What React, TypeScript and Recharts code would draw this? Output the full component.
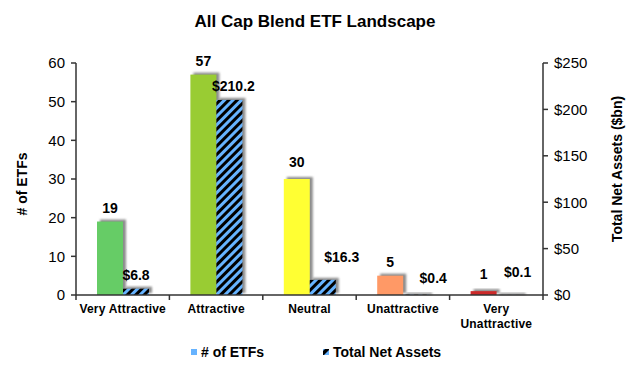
import { Bar, BarChart, Cell, LabelList, XAxis, YAxis } from "recharts"

const categories = ["Very Attractive", "Attractive", "Neutral", "Unattractive", "Very Unattractive"]
const etfCounts = [19, 57, 30, 5, 1]
const netAssets = [6.8, 210.2, 16.3, 0.4, 0.1]
const barColors = ["#66CC66", "#99CC33", "#FFFF33", "#FF9966", "#CC2929"]
const leftTicks = [0, 10, 20, 30, 40, 50, 60]
const rightTicks = [0, 50, 100, 150, 200, 250]

// small manual nudges of data labels, like the hand-placed ones in the original
const etfLabelDy = [0, 0, -3, 0, -3]
const assetLabelDx = [0, 4, 19, 17, 8]
const assetLabelDy = [0, 0, -9, -3, -9]

const data = categories.map((name, i) => ({
  name,
  etfs: etfCounts[i],
  assets: netAssets[i],
}))

const font = "'Liberation Sans', Arial, sans-serif"
const W = 630
const H = 368
const leftW = 76
const rightW = 87
const top = 63
const xAxisH = 73
const plotBottom = H - xAxisH
const step = (W - leftW - rightW) / categories.length

function ShadowBar(props: any) {
  const { x, y, width, height, fill } = props
  const h = Math.max(height, 0)
  return (
    <g>
      <rect x={x + 3} y={y - 2} width={width} height={Math.max(h, 2)} fill="#8c8c8c" filter="url(#blur)" />
      <rect x={x} y={y} width={width} height={h} fill={fill} />
    </g>
  )
}

function makeLabel(dxs: number[], dys: number[], fmt: (v: number) => string) {
  return (p: any) => {
    const i = p.index ?? 0
    return (
      <text
        x={p.x + p.width / 2 + dxs[i]}
        y={p.y - 9 + dys[i]}
        textAnchor="middle"
        fontFamily={font}
        fontSize={14}
        fontWeight="bold"
        fill="#000"
      >
        {fmt(Number(p.value))}
      </text>
    )
  }
}

function CategoryTick(props: any) {
  const { x, payload, index } = props
  const words = payload.value === "Very Unattractive" ? ["Very", "Unattractive"] : [payload.value]
  return (
    <g>
      <line x1={x - step / 2} x2={x - step / 2} y1={plotBottom} y2={plotBottom + 5} stroke="#333" strokeWidth={1.5} />
      {index === categories.length - 1 && (
        <line x1={x + step / 2} x2={x + step / 2} y1={plotBottom} y2={plotBottom + 5} stroke="#333" strokeWidth={1.5} />
      )}
      <text
        x={x}
        y={plotBottom + 18}
        textAnchor="middle"
        fontFamily={font}
        fontSize={12}
        fontWeight="bold"
        letterSpacing={0.2}
        fill="#000"
      >
        {words.map((w, i) => (
          <tspan key={w} x={x} dy={i === 0 ? 0 : 15}>
            {w}
          </tspan>
        ))}
      </text>
    </g>
  )
}

export default function App() {
  return (
    <div style={{ position: "absolute", left: 0, top: 0, width: W, height: H, background: "#fff", fontFamily: font }}>
      <div
        style={{
          position: "absolute",
          top: 12,
          left: 0,
          width: W,
          textAlign: "center",
          fontSize: 17,
          fontWeight: "bold",
          color: "#000",
        }}
      >
        All Cap Blend ETF Landscape
      </div>
      <BarChart width={W} height={H} data={data} margin={{ top, right: 0, bottom: 0, left: 0 }} barGap={0} barSize={26}>
        <defs>
          <pattern id="stripes" patternUnits="userSpaceOnUse" width={6} height={6} patternTransform="rotate(45)">
            <rect x={0} y={0} width={6} height={6} fill="#000" />
            <rect x={0} y={0} width={3} height={6} fill="#66B3FF" />
          </pattern>
          <filter id="blur" x="-20%" y="-20%" width="140%" height="140%">
            <feGaussianBlur stdDeviation={0.8} />
          </filter>
        </defs>
        <XAxis
          dataKey="name"
          height={xAxisH}
          tickLine={false}
          interval={0}
          axisLine={{ stroke: "#333", strokeWidth: 1.5 }}
          tick={<CategoryTick />}
        />
        <YAxis
          yAxisId="left"
          width={leftW}
          domain={[0, 60]}
          ticks={leftTicks}
          tickSize={5}
          tickMargin={6}
          axisLine={{ stroke: "#333", strokeWidth: 1.5 }}
          tickLine={{ stroke: "#333", strokeWidth: 1.5 }}
          tick={{ fill: "#000", fontSize: 15, fontFamily: font }}
          label={{
            value: "# of ETFs",
            angle: -90,
            position: "insideLeft",
            dx: 17,
            dy: 5,
            style: { textAnchor: "middle", fontFamily: font, fontSize: 14, fontWeight: "bold", fill: "#000" },
          }}
        />
        <YAxis
          yAxisId="right"
          orientation="right"
          width={rightW}
          domain={[0, 250]}
          ticks={rightTicks}
          tickSize={5}
          tickMargin={6}
          tickFormatter={(v: number) => `$${v}`}
          axisLine={{ stroke: "#333", strokeWidth: 1.5 }}
          tickLine={{ stroke: "#333", strokeWidth: 1.5 }}
          tick={{ fill: "#000", fontSize: 15, fontFamily: font }}
          label={{
            value: "Total Net Assets ($bn)",
            angle: -90,
            position: "insideRight",
            dx: -8,
            dy: -10,
            style: { textAnchor: "middle", fontFamily: font, fontSize: 14, fontWeight: "bold", fill: "#000" },
          }}
        />
        <Bar yAxisId="left" dataKey="etfs" shape={<ShadowBar />} isAnimationActive={false}>
          {data.map((d, i) => (
            <Cell key={d.name} fill={barColors[i]} />
          ))}
          <LabelList dataKey="etfs" content={makeLabel([0, 0, 0, 0, 0], etfLabelDy, (v) => `${v}`)} />
        </Bar>
        <Bar yAxisId="right" dataKey="assets" fill="url(#stripes)" shape={<ShadowBar />} isAnimationActive={false}>
          <LabelList dataKey="assets" content={makeLabel(assetLabelDx, assetLabelDy, (v) => `$${v.toFixed(1)}`)} />
        </Bar>
      </BarChart>
      <div
        style={{
          position: "absolute",
          top: 344,
          left: 191,
          display: "flex",
          alignItems: "center",
          fontSize: 14,
          fontWeight: "bold",
          color: "#000",
        }}
      >
        <span style={{ display: "inline-block", width: 6, height: 6, background: "#66B3FF", marginRight: 4 }} />
        <span>{"# of ETFs"}</span>
        <svg width={6} height={6} style={{ marginLeft: 59, marginRight: 4 }}>
          <rect width={6} height={6} fill="#66B3FF" />
          <polygon points="0,6 0,2 2,0 6,0 6,1 1,6" fill="#000" />
        </svg>
        <span>Total Net Assets</span>
      </div>
    </div>
  )
}
